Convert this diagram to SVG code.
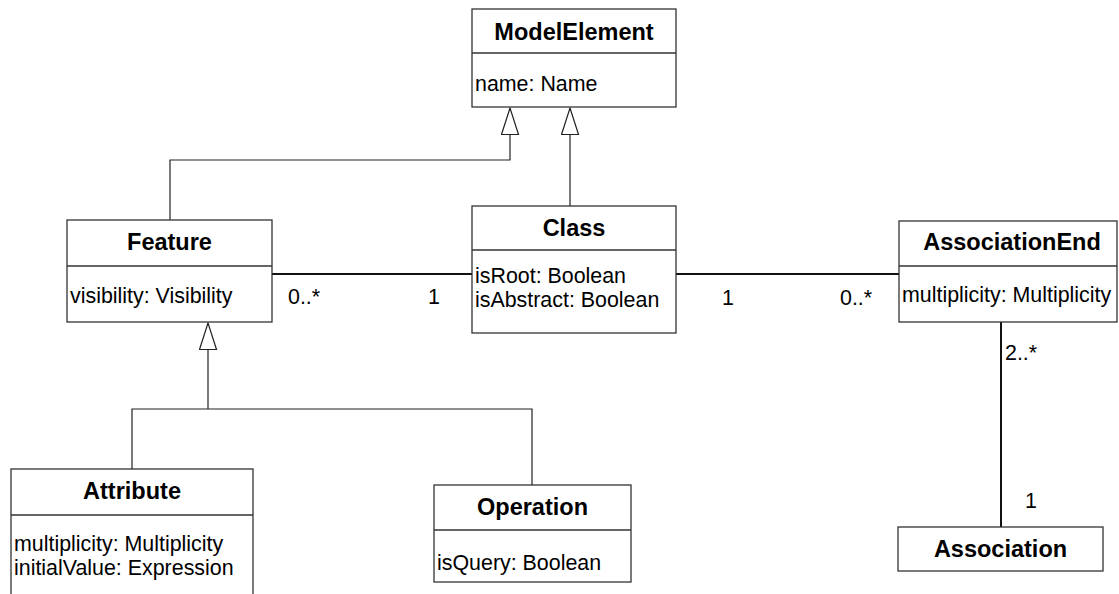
<svg xmlns="http://www.w3.org/2000/svg" width="1119" height="594" viewBox="0 0 1119 594">
  <style>
    .box { fill: #ffffff; stroke: #333333; stroke-width: 1.3; }
    .sep { stroke: #333333; stroke-width: 1.3; fill: none; }
    .title { font-family: "Liberation Sans", Arial, sans-serif; font-size: 23.5px; font-weight: bold; fill: #000000; text-anchor: middle; }
    .attr { font-family: "Liberation Sans", Arial, sans-serif; font-size: 21.4px; fill: #000000; }
    .mult { font-family: "Liberation Sans", Arial, sans-serif; font-size: 21.4px; fill: #000000; }
    .gen { fill: none; stroke: #222222; stroke-width: 1.2; }
    .assoc { fill: none; stroke: #111111; stroke-width: 2; }
  </style>
  <defs>
    <marker id="hollow-triangle" viewBox="0 0 28 19" refX="28" refY="9.5" markerWidth="28" markerHeight="19" markerUnits="userSpaceOnUse" orient="auto">
      <path d="M1,1 L27.5,9.5 L1,18 z" fill="#ffffff" stroke="#222222" stroke-width="1.2"/>
    </marker>
  </defs>

  <rect width="1119" height="594" fill="#ffffff"/>

  <!-- connectors -->
  <g id="connectors">
    <!-- generalizations -->
    <path class="gen" d="M170,220 V160 H510 V107.5" marker-end="url(#hollow-triangle)"/>
    <path class="gen" d="M570,206 V107.5" marker-end="url(#hollow-triangle)"/>
    <path class="gen" d="M132,469 V409 H532 V485"/>
    <path class="gen" d="M208,409 V322.5" marker-end="url(#hollow-triangle)"/>
    <!-- associations -->
    <path class="assoc" d="M272,274 H472"/>
    <path class="assoc" d="M676,274 H899"/>
    <path class="assoc" d="M1001,322 V527"/>
    <!-- multiplicities -->
    <text class="mult" x="288" y="304">0..*</text>
    <text class="mult" x="428" y="304">1</text>
    <text class="mult" x="722" y="305">1</text>
    <text class="mult" x="840" y="305">0..*</text>
    <text class="mult" x="1005" y="360">2..*</text>
    <text class="mult" x="1025" y="508">1</text>
  </g>

  <!-- ModelElement -->
  <g id="ModelElement">
    <rect class="box" x="472" y="9" width="204" height="98"/>
    <line class="sep" x1="472" y1="53" x2="676" y2="53"/>
    <text class="title" x="574" y="40">ModelElement</text>
    <text class="attr" x="475" y="91">name: Name</text>
  </g>

  <!-- Feature -->
  <g id="Feature">
    <rect class="box" x="67" y="220" width="205" height="102"/>
    <line class="sep" x1="67" y1="266" x2="272" y2="266"/>
    <text class="title" x="169.5" y="250">Feature</text>
    <text class="attr" x="70" y="303">visibility: Visibility</text>
  </g>

  <!-- Class -->
  <g id="Class">
    <rect class="box" x="472" y="206" width="204" height="127"/>
    <line class="sep" x1="472" y1="250" x2="676" y2="250"/>
    <text class="title" x="574" y="236">Class</text>
    <text class="attr" x="475" y="283">isRoot: Boolean</text>
    <text class="attr" x="475" y="307">isAbstract: Boolean</text>
  </g>

  <!-- AssociationEnd -->
  <g id="AssociationEnd">
    <rect class="box" x="899" y="221" width="218" height="101"/>
    <line class="sep" x1="899" y1="266" x2="1117" y2="266"/>
    <text class="title" x="1012" y="250">AssociationEnd</text>
    <text class="attr" x="902" y="302">multiplicity: Multiplicity</text>
  </g>

  <!-- Attribute -->
  <g id="Attribute">
    <rect class="box" x="11" y="469" width="242" height="140"/>
    <line class="sep" x1="11" y1="515" x2="253" y2="515"/>
    <text class="title" x="132" y="499">Attribute</text>
    <text class="attr" x="14" y="551">multiplicity: Multiplicity</text>
    <text class="attr" x="14" y="575">initialValue: Expression</text>
  </g>

  <!-- Operation -->
  <g id="Operation">
    <rect class="box" x="434" y="485" width="197" height="97"/>
    <line class="sep" x1="434" y1="530" x2="631" y2="530"/>
    <text class="title" x="532.5" y="515">Operation</text>
    <text class="attr" x="437" y="570">isQuery: Boolean</text>
  </g>

  <!-- Association -->
  <g id="Association">
    <rect class="box" x="898" y="527" width="205" height="44"/>
    <text class="title" x="1000.5" y="557">Association</text>
  </g>
</svg>
